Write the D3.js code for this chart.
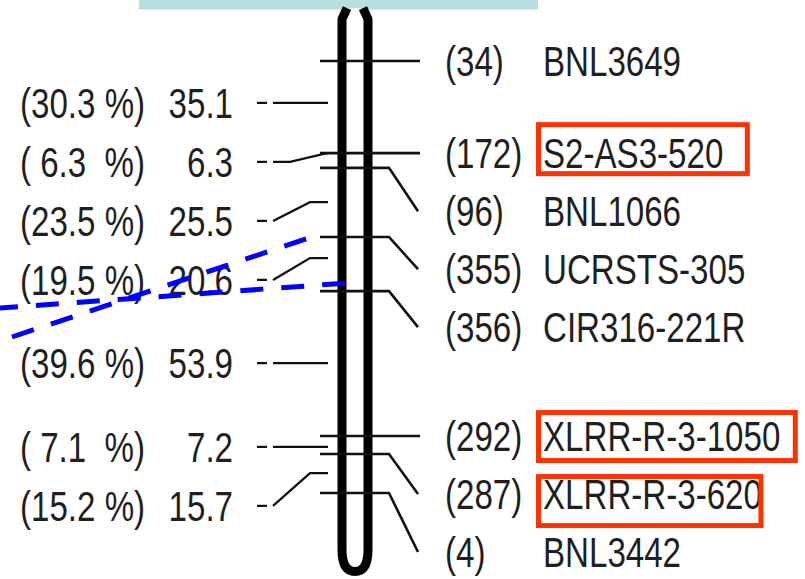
<!DOCTYPE html>
<head>
    <meta charset="utf-8">
    <title>Linkage map</title>
    <script src="https://d3js.org/d3.v7.min.js"></script>
    <style>
        body { margin: 0; background: #fff; }
        text { font-family: "Liberation Sans", Arial, sans-serif; fill: #1f1f1f; white-space: pre; }
    </style>
</head>

<body>
    <div id="container"></div>
    <script>

        //------------------------1. DATA------------------------//
        var markerNames = ["BNL3649", "S2-AS3-520", "BNL1066", "UCRSTS-305", "CIR316-221R", "XLRR-R-3-1050", "XLRR-R-3-620", "BNL3442"];
        var markerIds = [34, 172, 96, 355, 356, 292, 287, 4];
        var markerCM = [0, 28.8, 33.4, 55.0, 71.9, 117.2, 122.8, 135.0];

        var qtlCM = [13.1, 28.8, 44.1, 61.6, 94.4, 120.6, 128.8];
        var qtlLOD = [35.1, 6.3, 25.5, 20.6, 53.9, 7.2, 15.7];
        var qtlPVE = [30.3, 6.3, 23.5, 19.5, 39.6, 7.1, 15.2];

        var highlighted = ["S2-AS3-520", "XLRR-R-3-1050", "XLRR-R-3-620"];

        //------------------------2. LAYOUT------------------------//
        var width = 805, height = 579,
            fontSize = 43, squeeze = 0.77,
            chromLeft = 342, chromRight = 368, chromTopCM = -16.5, chromBotCM = 159.5,
            boxStyle = { stroke: "#ff3300", width: 5 },
            // hand drawn boxes: extra space right of the text, vertical offset from the row
            boxCfg = { "S2-AS3-520": { padR: 24, dy: -28.5, h: 49 }, "XLRR-R-3-1050": { padR: 15, dy: -23.5, h: 48 }, "XLRR-R-3-620": { padR: -1, dy: -17.5, h: 49 } };

        var y = d3.scaleLinear().domain([0, 135]).range([61, 493]);

        // push labels down so they do not overlap
        function spread(ys, gap) {
            var out = [];
            ys.forEach(function (v, i) { out.push(i ? Math.max(v, out[i - 1] + gap) : v); });
            return out;
        }

        function label(sel, x, yy, txt, anchor) {
            var g = sel.append("g").attr("transform", "translate(" + x + "," + yy + ")");
            return g.append("text")
                .attr("transform", "scale(" + squeeze + ",1)")
                .attr("dy", "0.35em")
                .attr("xml:space", "preserve")
                .style("font-size", fontSize + "px")
                .style("text-anchor", anchor || "start")
                .text(txt);
        }

        var svg = d3.select("#container").append("svg")
            .attr("width", width).attr("height", height);

        // slide decoration on top
        svg.append("rect").attr("x", 139).attr("y", 0).attr("width", 399).attr("height", 9.5).attr("fill", "#b9dfe1");

        //----------------------------CHROMOSOME-----------------------------//
        var yt = y(chromTopCM), yb = y(chromBotCM), mid = (chromLeft + chromRight) / 2;
        svg.append("path")
            .attr("d", "M" + (chromLeft + 5) + "," + yt + " L" + chromLeft + "," + (yt + 11)
                + " L" + chromLeft + "," + (yb - 22)
                + " Q" + chromLeft + "," + yb + " " + mid + "," + yb
                + " Q" + chromRight + "," + yb + " " + chromRight + "," + (yb - 22)
                + " L" + chromRight + "," + (yt + 11) + " L" + (chromRight - 5) + "," + yt)
            .attr("fill", "#fff")
            .attr("stroke", "#000")
            .attr("stroke-width", 9)
            .attr("stroke-linejoin", "round");

        //----------------------------MARKERS (right)-----------------------------//
        var markerY = markerCM.map(function (d) { return y(d); });
        var slotR = spread(markerY, 58);

        markerNames.forEach(function (name, i) {
            var my = markerY[i], sy = slotR[i];
            var d = Math.abs(sy - my) < 1
                ? "M320," + my + " H420"
                : "M320," + my + " H389 L418," + sy;
            svg.append("path").attr("d", d)
                .attr("fill", "none").attr("stroke", "#111").attr("stroke-width", 2.6);

            label(svg, 445, sy, "(" + markerIds[i] + ")");
            var t = label(svg, 543, sy, name);

            if (highlighted.indexOf(name) > -1) {
                var bb = t.node().getBoundingClientRect(), c = boxCfg[name];
                svg.append("rect")
                    .attr("x", 538.5)
                    .attr("y", sy + c.dy)
                    .attr("width", bb.right + c.padR - 538.5)
                    .attr("height", c.h)
                    .attr("fill", "none")
                    .attr("stroke", boxStyle.stroke)
                    .attr("stroke-width", boxStyle.width);
            }
        });

        //----------------------------QTL (left)-----------------------------//
        var qtlY = qtlCM.map(function (d) { return y(d); });
        var slotL = spread(qtlY, 59);

        qtlLOD.forEach(function (lod, i) {
            var ay = qtlY[i], ly = slotL[i];
            var bendX = (ly - ay) < 10 ? 290 : 273;
            var d = Math.abs(ly - ay) < 1
                ? "M257," + ly + " H328"
                : "M257," + ly + " H" + bendX + " L" + (bendX + 37) + "," + ay + " H328";
            svg.append("path").attr("d", d)
                .attr("fill", "none").attr("stroke", "#111").attr("stroke-width", 2.3)
                .attr("stroke-dasharray", "10,6,1000");

            var p = qtlPVE[i];
            var pt = p < 10 ? "( " + p.toFixed(1) + "  %)" : "(" + p.toFixed(1) + " %)";
            label(svg, 20, ly, pt);
            label(svg, 233, ly, lod.toFixed(1), "end");
        });

        //----------------------------POINTERS-----------------------------//
        var pointers = [
            { x0: -5, y0: 308.4, toCM: 69.4, x1: 347 },
            { x0: 12, y0: 337, toCM: markerCM[3], x1: 312 }
        ];
        svg.selectAll(".pointer")
            .data(pointers)
            .join("line")
            .attr("class", "pointer")
            .attr("x1", function (d) { return d.x0; })
            .attr("y1", function (d) { return d.y0; })
            .attr("x2", function (d) { return d.x1; })
            .attr("y2", function (d) { return y(d.toCM); })
            .attr("stroke", "#0000ff")
            .attr("stroke-width", 5)
            .attr("stroke-dasharray", "23,18");

    </script>
</body>
